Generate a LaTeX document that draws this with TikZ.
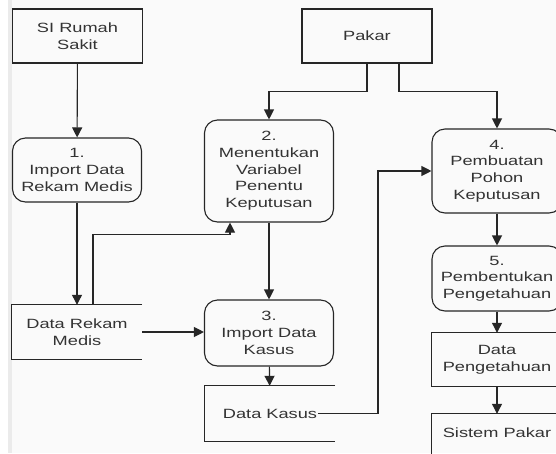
\documentclass[tikz,border=0pt]{standalone}
\usepackage{fontspec}
\newfontfamily\dfdfont[FakeStretch=1.36]{Liberation Sans}
\usepackage{tikz}
\usetikzlibrary{shapes,decorations}
\usetikzlibrary{arrows.meta, positioning}

\tikzset{
    proc/.style={draw=black!85, line width=1.1pt, rounded corners=13pt, align=center,
        text=black!80, font=\dfdfont\fontsize{13.4}{16.7}\selectfont,
        minimum width=129pt, inner sep=0pt},
    ent/.style={draw=black!85, line width=1.1pt, align=center, text=black!80,
        font=\dfdfont\fontsize{13.4}{16.7}\selectfont, minimum width=130pt,
        minimum height=54pt, inner sep=0pt},
    store/.style={align=center, text=black!80, font=\dfdfont\fontsize{13.4}{16.7}\selectfont,
        minimum width=130pt, inner sep=0pt},
    flow/.style={draw=black!85, line width=1.1pt, -{Triangle[length=10pt,width=10pt]}},
}

\begin{document}
\begin{tikzpicture}[x=1pt,y=-1pt]
    % Background and page strip
    \useasboundingbox (0,0) rectangle (556,453);
    \clip (0,0) rectangle (556,453);
    \fill[white] (0,0) rectangle (556,453);
    \fill[black!2] (12,0) rectangle (556,453);
    \fill[black!8] (8,0) rectangle (12,453);

    % Draw external entities
    \node[ent] (si) at (77.5,36) {SI Rumah\\Sakit};
    \node[ent] (pakar) at (367,36) {Pakar};

    % Draw processes
    \node[proc, minimum height=64pt] (p1) at (77,170) {1.\\Import Data\\Rekam Medis};
    \node[proc, minimum height=102pt] (p2) at (269,171) {2.\\Menentukan\\Variabel\\Penentu\\Keputusan};
    \node[proc, minimum height=66pt] (p3) at (269,333) {3.\\Import Data\\Kasus};
    \node[proc, minimum width=130pt, minimum height=84pt] (p4) at (497,171) {4.\\Pembuatan\\Pohon\\Keputusan};
    \node[proc, minimum width=130pt, minimum height=65pt] (p5) at (497,278.5) {5.\\Pembentukan\\Pengetahuan};

    % Draw data stores (open on the right)
    \node[store, minimum height=54pt] (drm) at (77,332) {Data Rekam\\Medis};
    \node[store, minimum height=55pt] (dk) at (270,413.5) {Data Kasus};
    \node[store, minimum height=53pt] (dp) at (497,359.5) {Data\\Pengetahuan};
    \node[store, minimum height=38pt] (sp) at (497,433) {Sistem Pakar};
    \foreach \s in {drm,dk,dp}
        \draw[black!85, line width=1.1pt] (\s.north east) -- (\s.north west) -- (\s.south west) -- (\s.south east);
    \draw[black!85, line width=1.1pt] (sp.north east) -- (sp.north west) -- ++(0,40);

    % Draw data flows
    \draw[flow] (si) -- (p1);
    \draw[flow] (pakar.south) -- ++(0,28) -| (p2.north);
    \draw[flow] ([xshift=32pt]pakar.south) -- ++(0,28) -| (p4.north);
    \draw[flow] (p1) -- (drm);
    \draw[flow] ([xshift=16pt]drm.north) -- ++(0,-70) -| ([xshift=-39pt]p2.south);
    \draw[flow] (drm.east) -- (drm.east -| p3.west);
    \draw[flow] (p2) -- (p3);
    \draw[flow] (p3) -- (dk);
    \draw[flow] ([xshift=48pt]dk.center) -- ++(60,0) |- (p4.west);
    \draw[flow] (p4) -- (p5);
    \draw[flow] (p5) -- (dp);
    \draw[flow] (dp) -- (sp);

\end{tikzpicture}
\end{document}
